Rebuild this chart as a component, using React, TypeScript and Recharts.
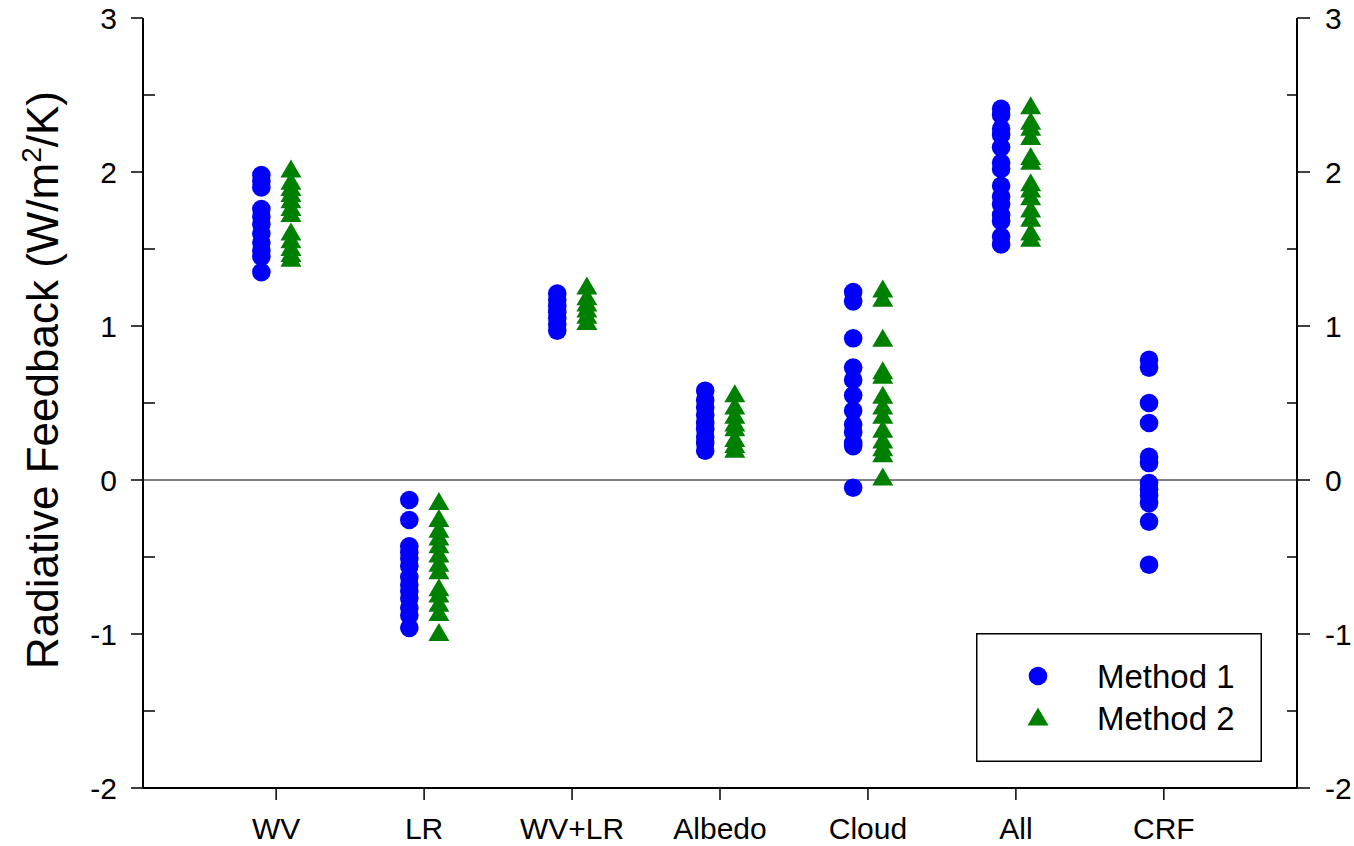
import React from 'react';
import { ScatterChart, Scatter, XAxis, YAxis, ReferenceLine, Legend } from 'recharts';

const CATEGORIES = ['WV', 'LR', 'WV+LR', 'Albedo', 'Cloud', 'All', 'CRF'];
const Y_TICKS = [-2, -1.5, -1, -0.5, 0, 0.5, 1, 1.5, 2, 2.5, 3];

// Method 1 (circles)
const WV_M1 = [1.98, 1.94, 1.9, 1.76, 1.71, 1.66, 1.6, 1.54, 1.49, 1.45, 1.35];
const LR_M1 = [-0.13, -0.26, -0.43, -0.47, -0.51, -0.56, -0.63, -0.68, -0.72, -0.77, -0.83, -0.88, -0.96];
const WVLR_M1 = [1.21, 1.17, 1.13, 1.09, 1.05, 1.01, 0.97];
const ALBEDO_M1 = [0.58, 0.52, 0.47, 0.42, 0.37, 0.33, 0.28, 0.24, 0.19];
const CLOUD_M1 = [1.22, 1.16, 0.92, 0.73, 0.65, 0.55, 0.45, 0.36, 0.31, 0.24, 0.22, -0.05];
const ALL_M1 = [2.41, 2.37, 2.28, 2.24, 2.16, 2.06, 2.02, 1.91, 1.84, 1.79, 1.72, 1.68, 1.58, 1.53];
const CRF_M1 = [0.78, 0.73, 0.5, 0.37, 0.15, 0.11, -0.02, -0.06, -0.1, -0.15, -0.27, -0.55];

// Method 2 (triangles)
const WV_M2 = [2.02, 1.94, 1.9, 1.86, 1.82, 1.77, 1.73, 1.61, 1.56, 1.51, 1.47, 1.44];
const LR_M2 = [-0.14, -0.25, -0.32, -0.37, -0.42, -0.48, -0.54, -0.59, -0.7, -0.74, -0.8, -0.86, -0.99];
const WVLR_M2 = [1.26, 1.19, 1.15, 1.11, 1.07, 1.03];
const ALBEDO_M2 = [0.56, 0.48, 0.42, 0.37, 0.34, 0.27, 0.23, 0.2];
const CLOUD_M2 = [1.24, 1.18, 0.92, 0.71, 0.68, 0.55, 0.48, 0.42, 0.33, 0.26, 0.21, 0.17, 0.02];
const ALL_M2 = [2.43, 2.33, 2.29, 2.23, 2.1, 2.07, 1.93, 1.89, 1.84, 1.76, 1.7, 1.61, 1.57];
const CRF_M2: number[] = [];

const METHOD1 = [WV_M1, LR_M1, WVLR_M1, ALBEDO_M1, CLOUD_M1, ALL_M1, CRF_M1];
const METHOD2 = [WV_M2, LR_M2, WVLR_M2, ALBEDO_M2, CLOUD_M2, ALL_M2, CRF_M2];

const FONT = '"Liberation Sans", Arial, Helvetica, sans-serif';
const BLUE = '#0000ff';
const GREEN = '#008000';

const toPoints = (groups: number[][], shift: number) =>
  groups.flatMap((vals, i) => vals.map((v) => ({ x: i + 1 + shift, y: v })));

const m1Points = toPoints(METHOD1, -0.1);
const m2Points = toPoints(METHOD2, 0.1);
const xTicks = CATEGORIES.map((_, i) => i + 1);

const CircleMark = (props: any) => <circle cx={props.cx} cy={props.cy} r={9.3} fill={BLUE} />;

const TriangleMark = (props: any) => {
  const { cx, cy } = props;
  return (
    <polygon
      points={`${cx},${cy - 9.5} ${cx - 10.5},${cy + 8.5} ${cx + 10.5},${cy + 8.5}`}
      fill={GREEN}
    />
  );
};

const LeftTick = ({ x, y, payload }: any) => {
  const major = Number.isInteger(payload.value);
  return (
    <g>
      {major ? (
        <line x1={x - 12} x2={x} y1={y} y2={y} stroke="#000" strokeWidth={1.5} />
      ) : (
        <line x1={x} x2={x + 12} y1={y} y2={y} stroke="#000" strokeWidth={1.5} />
      )}
      {major && (
        <text x={x - 26} y={y} dy="0.36em" textAnchor="end" fontSize={30} fontFamily={FONT} fill="#000">
          {payload.value}
        </text>
      )}
    </g>
  );
};

const RightTick = ({ x, y, payload }: any) => {
  const major = Number.isInteger(payload.value);
  return (
    <g>
      {major ? (
        <line x1={x} x2={x + 13} y1={y} y2={y} stroke="#000" strokeWidth={1.5} />
      ) : (
        <line x1={x - 10} x2={x} y1={y} y2={y} stroke="#000" strokeWidth={1.5} />
      )}
      {major && (
        <text x={x + 28} y={y} dy="0.36em" textAnchor="start" fontSize={30} fontFamily={FONT} fill="#000">
          {payload.value}
        </text>
      )}
    </g>
  );
};

const BottomTick = ({ x, y, payload }: any) => (
  <text x={x} y={y + 39} textAnchor="middle" fontSize={30} fontFamily={FONT} fill="#000">
    {CATEGORIES[payload.value - 1]}
  </text>
);

const YTitle = () => (
  <text
    x={58}
    y={380}
    transform="rotate(-90 58 380)"
    textAnchor="middle"
    fontSize={44}
    fontFamily={FONT}
    fill="#000"
  >
    Radiative Feedback (W/m
    <tspan dy={-17} fontSize={28}>2</tspan>
    <tspan dy={17}>/K)</tspan>
  </text>
);

const LegendBox = () => (
  <svg width={286} height={129} style={{ display: 'block' }}>
    <rect x={0.75} y={0.75} width={284.5} height={127.5} fill="#fff" stroke="#000" strokeWidth={1.5} />
    <circle cx={62} cy={43} r={9.3} fill={BLUE} />
    <polygon points="62,74.5 51.5,92.5 72.5,92.5" fill={GREEN} />
    <text x={121} y={55} fontSize={33} fontFamily={FONT} fill="#000">Method 1</text>
    <text x={121} y={97} fontSize={33} fontFamily={FONT} fill="#000">Method 2</text>
  </svg>
);

export default function App() {
  return (
    <div style={{ position: 'absolute', left: 0, top: 0, width: 1354, height: 846, overflow: 'hidden' }}>
      <ScatterChart width={1354} height={846} margin={{ top: 18, right: 7, bottom: 0, left: 63 }}>
        <XAxis
          type="number"
          dataKey="x"
          domain={[0.1, 7.9]}
          ticks={xTicks}
          interval={0}
          height={58}
          tickSize={12}
          tickMargin={0}
          axisLine={{ stroke: '#000', strokeWidth: 2 }}
          tickLine={{ stroke: '#000', strokeWidth: 1.5 }}
          tick={<BottomTick />}
        />
        <YAxis
          yAxisId="left"
          type="number"
          dataKey="y"
          domain={[-2, 3]}
          ticks={Y_TICKS}
          interval={0}
          width={80}
          tickSize={0}
          tickMargin={0}
          axisLine={{ stroke: '#000', strokeWidth: 2 }}
          tickLine={false}
          tick={<LeftTick />}
          label={<YTitle />}
        />
        <YAxis
          yAxisId="right"
          orientation="right"
          type="number"
          dataKey="y"
          domain={[-2, 3]}
          ticks={Y_TICKS}
          interval={0}
          width={50}
          tickSize={0}
          tickMargin={0}
          axisLine={{ stroke: '#000', strokeWidth: 2 }}
          tickLine={false}
          tick={<RightTick />}
        />
        <ReferenceLine yAxisId="left" y={0} stroke="#000" strokeWidth={1} />
        <Scatter
          name="Method 1"
          yAxisId="left"
          data={m1Points}
          fill={BLUE}
          shape={CircleMark}
          isAnimationActive={false}
        />
        <Scatter
          name="Method 2"
          yAxisId="right"
          data={m2Points}
          fill={GREEN}
          shape={TriangleMark}
          isAnimationActive={false}
        />
        <Legend
          layout="vertical"
          align="center"
          verticalAlign="middle"
          wrapperStyle={{ left: 975.7, top: 632.7, width: 286, height: 129 }}
          content={() => <LegendBox />}
        />
      </ScatterChart>
    </div>
  );
}
